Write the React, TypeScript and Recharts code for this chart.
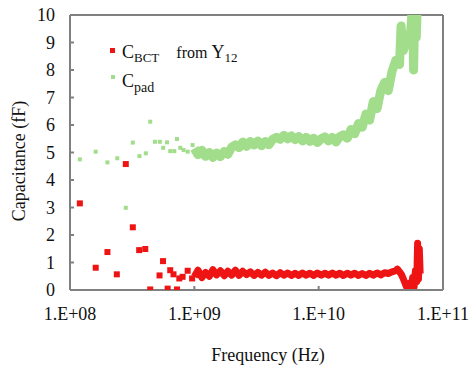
import React from 'react';
import { ComposedChart, XAxis, YAxis, Scatter, Line, ReferenceLine } from 'recharts';

// Frequency ticks (Hz)
const xTicks = [1e8, 1e9, 1e10, 1e11];
const yTicks = [0, 1, 2, 3, 4, 5, 6, 7, 8, 9, 10];

// C_BCT from Y12 — sparse low-frequency points
const bctLowFreq = [1.2e8, 1.61e8, 2.0e8, 2.38e8, 2.81e8, 3.2e8, 3.6e8, 4.03e8, 4.42e8, 5.25e8, 5.6e8, 6.1e8, 6.4e8, 6.8e8, 7.25e8, 7.57e8, 8.05e8, 8.84e8, 9.6e8];
const bctLowVal = [3.15, 0.81, 1.38, 0.57, 4.58, 2.28, 1.45, 1.49, 0.02, 0.53, 1.05, 0.05, 0.72, 0.57, 0.02, 0.42, 0.48, 0.7, 0.42];

// C_pad — sparse low-frequency points
const padLowFreq = [1.2e8, 1.61e8, 2.0e8, 2.4e8, 2.81e8, 3.2e8, 3.62e8, 4.07e8, 4.42e8, 4.82e8, 5.28e8, 5.62e8, 6.03e8, 6.4e8, 6.9e8, 7.25e8, 7.71e8, 8.2e8, 8.84e8, 9.68e8, 1.03e9];
const padLowVal = [4.75, 5.03, 4.64, 4.79, 2.99, 5.36, 4.87, 4.97, 6.12, 5.39, 5.39, 5.17, 5.37, 5.05, 5.05, 5.49, 5.17, 5.09, 5.03, 5.27, 5.03];

// Dense band frequencies (Hz)
const bandFreq = [1.0e9, 1.07e9, 1.15e9, 1.23e9, 1.32e9, 1.41e9, 1.51e9, 1.62e9, 1.74e9, 1.86e9, 2.0e9, 2.14e9, 2.29e9, 2.45e9, 2.63e9, 2.82e9, 3.02e9, 3.24e9, 3.47e9, 3.72e9, 3.98e9, 4.27e9, 4.57e9, 4.9e9, 5.25e9, 5.62e9, 6.03e9, 6.46e9, 6.92e9, 7.41e9, 7.94e9, 8.51e9, 9.12e9, 9.77e9, 1.05e10, 1.12e10, 1.2e10, 1.29e10, 1.38e10, 1.48e10, 1.58e10, 1.7e10, 1.82e10, 1.95e10, 2.09e10, 2.24e10, 2.4e10, 2.57e10, 2.75e10, 2.95e10, 3.16e10, 3.39e10, 3.63e10, 3.89e10];
const bctBandVal = [0.48, 0.72, 0.45, 0.64, 0.5, 0.74, 0.55, 0.7, 0.52, 0.68, 0.54, 0.72, 0.53, 0.68, 0.56, 0.66, 0.53, 0.64, 0.54, 0.65, 0.53, 0.62, 0.52, 0.63, 0.54, 0.62, 0.53, 0.61, 0.53, 0.62, 0.54, 0.61, 0.53, 0.62, 0.54, 0.61, 0.54, 0.62, 0.54, 0.61, 0.53, 0.61, 0.54, 0.61, 0.53, 0.6, 0.53, 0.61, 0.54, 0.62, 0.55, 0.63, 0.6, 0.66];
const padBandVal = [5.15, 4.92, 5.08, 4.86, 5.0, 4.82, 4.98, 4.85, 5.04, 4.93, 5.2, 5.28, 5.18, 5.38, 5.22, 5.4, 5.27, 5.42, 5.25, 5.4, 5.28, 5.48, 5.55, 5.48, 5.62, 5.5, 5.6, 5.47, 5.58, 5.42, 5.55, 5.4, 5.52, 5.36, 5.5, 5.57, 5.42, 5.55, 5.38, 5.58, 5.64, 5.52, 5.84, 5.68, 6.05, 5.92, 6.4, 6.18, 6.85, 6.6, 7.25, 7.55, 7.25, 7.95];

// High-frequency tail
const bctTailFreq = [3.89e10, 4.17e10, 4.3e10, 4.47e10, 4.65e10, 4.8e10, 5.0e10, 5.2e10, 5.4e10, 5.55e10, 5.7e10, 5.85e10, 6.0e10, 6.15e10, 6.25e10, 6.35e10, 6.45e10, 6.55e10];
const bctTailVal = [0.66, 0.7, 0.76, 0.66, 0.55, 0.4, 0.2, 0.02, 0.25, 0.05, 0.45, 0.1, 0.7, 0.3, 1.7, 0.4, 1.5, 0.6];
const padTailFreq = [3.89e10, 4.17e10, 4.47e10, 4.6e10, 4.79e10, 5.13e10, 5.5e10, 5.7e10, 5.8e10, 5.95e10, 6.1e10, 6.25e10, 6.4e10];
const padTailVal = [7.95, 8.35, 8.2, 9.6, 8.7, 9.1, 9.4, 10.5, 8.0, 10.5, 9.2, 10.8, 11.0];

const RED = '#ee1414';
const GREEN = '#a2dd8c';
const AXIS = '#808080';
const FONT = 'Liberation Serif, Times New Roman, serif';

const zip = (fs: number[], vs: number[]) => fs.map((f, i) => ({ f, v: vs[i] }));
const bctLow = zip(bctLowFreq, bctLowVal);
const padLow = zip(padLowFreq, padLowVal);
const bctBand = zip(bandFreq, bctBandVal).concat(zip(bctTailFreq, bctTailVal));
const padBand = zip(bandFreq, padBandVal).concat(zip(padTailFreq, padTailVal));

const fmtX = (v: number) => '1.E+' + String(Math.round(Math.log10(v))).padStart(2, '0');

const redSquare = (p: any) => <rect x={p.cx - 3} y={p.cy - 3} width={6} height={6} fill={RED} />;
const greenSquare = (p: any) => <rect x={p.cx - 2} y={p.cy - 2} width={4} height={4} fill={GREEN} />;

const tickStyle = { fontSize: 18, fontFamily: FONT, fill: '#111' };

export default function App() {
  return (
    <div style={{ position: 'absolute', left: 0, top: 0, width: 472, height: 369, background: '#fff', fontFamily: FONT }}>
      <ComposedChart width={472} height={369} margin={{ top: 15, right: 29, bottom: 0, left: 0 }} style={{ fontFamily: FONT }}>
        <XAxis
          dataKey="f"
          type="number"
          scale="log"
          domain={[1e8, 1e11]}
          ticks={xTicks}
          allowDataOverflow
          tickFormatter={fmtX}
          height={79}
          stroke={AXIS}
          strokeWidth={2}
          tickSize={-4}
          tickMargin={21}
          tick={tickStyle}
          label={{
            content: () => (
              <text x={268} y={361} textAnchor="middle" style={{ fontSize: 18, fontFamily: FONT }} fill="#111">
                Frequency (Hz)
              </text>
            ),
          }}
        />
        <YAxis
          dataKey="v"
          type="number"
          domain={[0, 10]}
          ticks={yTicks}
          allowDataOverflow
          width={70}
          stroke={AXIS}
          strokeWidth={2}
          tickSize={-4}
          tickMargin={19}
          tick={tickStyle}
          label={{
            content: () => (
              <text
                x={25}
                y={161}
                textAnchor="middle"
                transform="rotate(-90 25 161)"
                style={{ fontSize: 18, fontFamily: FONT }}
                fill="#111"
              >
                Capacitance (fF)
              </text>
            ),
          }}
        />
        <ReferenceLine y={10} stroke={AXIS} strokeWidth={2} />
        <ReferenceLine x={1e11} stroke={AXIS} strokeWidth={2} />
        <Line data={padBand} dataKey="v" stroke={GREEN} strokeWidth={9} dot={false} type="linear" isAnimationActive={false} strokeLinejoin="round" />
        <Scatter data={padLow} dataKey="v" fill={GREEN} shape={greenSquare} isAnimationActive={false} />
        <Line data={bctBand} dataKey="v" stroke={RED} strokeWidth={7} dot={false} type="linear" isAnimationActive={false} strokeLinejoin="round" />
        <Scatter data={bctLow} dataKey="v" fill={RED} shape={redSquare} isAnimationActive={false} />
        <g style={{ fontFamily: FONT }} fill="#111">
          <rect x={110} y={48} width={5} height={5} fill={RED} />
          <text x={122} y={58} style={{ fontSize: 18, fontFamily: FONT }}>
            C<tspan style={{ fontSize: 13 }} dy={4}>BCT</tspan>
            <tspan style={{ fontSize: 16 }} dy={-4} dx={17}>from</tspan>
            <tspan style={{ fontSize: 18 }} dx={4}>Y</tspan>
            <tspan style={{ fontSize: 13 }} dy={4}>12</tspan>
          </text>
          <rect x={111} y={75} width={4} height={4} fill={GREEN} />
          <text x={122} y={87} style={{ fontSize: 18, fontFamily: FONT }}>
            C<tspan style={{ fontSize: 14 }} dy={5}>pad</tspan>
          </text>
        </g>
      </ComposedChart>
    </div>
  );
}
